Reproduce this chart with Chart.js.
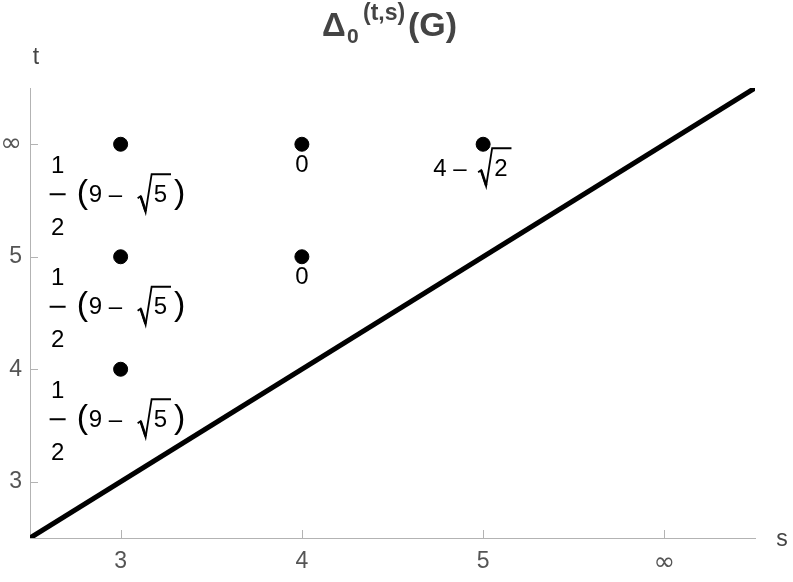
<!DOCTYPE html>
<html>
<head>
<meta charset="utf-8">
<script src="https://cdn.jsdelivr.net/npm/chart.js@4.4.0/dist/chart.umd.min.js"></script>
<style>
  body { margin: 0; background: #fff; }
  #wrap { width: 793px; height: 582px; }
</style>
</head>
<body>
<div id="wrap"><canvas id="plot" width="793" height="582"></canvas></div>
<script>
// s and t of each marked point (6 stands for infinity)
const sValues = [3, 3, 3, 4, 4, 5];
const tValues = [6, 5, 4, 6, 5, 6];
// value printed under each point
const valueKinds = ["half9minusRoot5", "half9minusRoot5", "half9minusRoot5", "zero", "zero", "fourMinusRoot2"];

const tickValues = [3, 4, 5, 6];
const tickLabels = ["3", "4", "5", "\u221E"];
const axisMin = 2.5;
const axisMax = 6.5;
// the diagonal s = t
const diagonal = [axisMin, axisMax];

const sans = "'Liberation Sans', Arial, sans-serif";
const labelFont = "24px " + sans;
const gray = "#555555";

Chart.defaults.font.family = sans;
Chart.defaults.font.size = 23;

// radical sign drawn as strokes, then the digit and its overline
function drawRoot(ctx, x0, cy, digit) {
  ctx.font = labelFont;
  ctx.textAlign = "left";
  ctx.textBaseline = "middle";
  const dw = ctx.measureText(digit).width;
  const dx = x0 + 16;
  ctx.fillText(digit, dx, cy);
  const end = dx + dw + 4;
  ctx.lineWidth = 1.8;
  ctx.lineJoin = "miter";
  ctx.beginPath();
  ctx.moveTo(x0, cy + 3);
  ctx.lineTo(x0 + 3, cy + 1);
  ctx.lineTo(x0 + 8, cy + 17);
  ctx.lineTo(x0 + 14, cy - 21);
  ctx.lineTo(end, cy - 21);
  ctx.stroke();
  // thicker down stroke
  ctx.lineWidth = 2.6;
  ctx.beginPath();
  ctx.moveTo(x0 + 3, cy + 1);
  ctx.lineTo(x0 + 8, cy + 16);
  ctx.stroke();
  return end;
}

function drawHalfNineMinusRoot5(ctx, x, y) {
  ctx.fillStyle = "#000";
  ctx.strokeStyle = "#000";
  ctx.font = labelFont;
  ctx.textAlign = "center";
  ctx.textBaseline = "middle";
  ctx.fillText("1", x - 63, y + 22);
  ctx.fillText("2", x - 63, y + 84);
  ctx.beginPath();
  ctx.lineWidth = 2;
  ctx.moveTo(x - 71, y + 50);
  ctx.lineTo(x - 55, y + 50);
  ctx.stroke();
  ctx.textAlign = "left";
  ctx.font = "34px " + sans;
  ctx.fillText("(", x - 44, y + 49);
  ctx.font = labelFont;
  ctx.fillText("9 \u2013", x - 32, y + 51);
  const end = drawRoot(ctx, x + 17, y + 51, "5");
  ctx.font = "34px " + sans;
  ctx.fillText(")", end + 3, y + 49);
}

function drawZero(ctx, x, y) {
  ctx.fillStyle = "#000";
  ctx.font = labelFont;
  ctx.textAlign = "center";
  ctx.textBaseline = "middle";
  ctx.fillText("0", x, y + 21);
}

function drawFourMinusRoot2(ctx, x, y) {
  ctx.fillStyle = "#000";
  ctx.strokeStyle = "#000";
  ctx.font = labelFont;
  ctx.textAlign = "left";
  ctx.textBaseline = "middle";
  ctx.fillText("4 \u2013", x - 50, y + 25);
  drawRoot(ctx, x - 5, y + 25, "2");
}

const labelPlugin = {
  id: "pointLabels",
  afterDatasetsDraw(chart) {
    const ctx = chart.ctx;
    const xs = chart.scales.x;
    const ys = chart.scales.y;
    ctx.save();
    for (let i = 0; i < sValues.length; i++) {
      const px = xs.getPixelForValue(sValues[i]);
      const py = ys.getPixelForValue(tValues[i]);
      if (valueKinds[i] === "half9minusRoot5") drawHalfNineMinusRoot5(ctx, px, py);
      else if (valueKinds[i] === "zero") drawZero(ctx, px, py);
      else drawFourMinusRoot2(ctx, px, py);
    }
    ctx.restore();
  },
  afterDraw(chart) {
    const ctx = chart.ctx;
    const xs = chart.scales.x;
    const ys = chart.scales.y;
    const area = chart.chartArea;
    ctx.save();
    // inward tick marks
    ctx.strokeStyle = "#b3b3b3";
    ctx.lineWidth = 1;
    ctx.beginPath();
    tickValues.forEach((v) => {
      const px = Math.round(xs.getPixelForValue(v)) + 0.5;
      ctx.moveTo(px, area.bottom);
      ctx.lineTo(px, area.bottom - 8);
      const py = Math.round(ys.getPixelForValue(v)) + 0.5;
      ctx.moveTo(area.left, py);
      ctx.lineTo(area.left + 8, py);
    });
    ctx.stroke();

    // axis names
    ctx.fillStyle = "#444";
    ctx.font = "23px " + sans;
    ctx.textAlign = "center";
    ctx.textBaseline = "middle";
    ctx.fillText("t", area.left + 6, 58);
    ctx.fillText("s", area.right + 27, area.bottom + 2);

    // title: Δ_0^(t,s)(G)
    ctx.textAlign = "left";
    ctx.textBaseline = "alphabetic";
    const bold = (size) => "bold " + size + "px " + sans;
    ctx.font = bold(33);
    ctx.fillText("\u0394", 322, 36);
    ctx.font = bold(21);
    ctx.fillText("0", 347, 43);
    ctx.font = bold(23);
    ctx.fillText("(t,s)", 363, 20);
    ctx.font = bold(34);
    ctx.fillText("(G)", 408, 36);
    ctx.restore();
  }
};

const tickFont = (c) =>
  c.tick && c.tick.value === 6
    ? { size: 26, family: "'DejaVu Sans', sans-serif" }
    : { size: 23, family: sans };

new Chart(document.getElementById("plot"), {
  type: "scatter",
  data: {
    datasets: [
      {
        type: "line",
        data: diagonal.map((v) => ({ x: v, y: v })),
        borderColor: "#000",
        borderWidth: 5,
        pointRadius: 0,
        fill: false,
      },
      {
        data: sValues.map((s, i) => ({ x: s, y: tValues[i] })),
        backgroundColor: "#000",
        borderColor: "#000",
        pointRadius: 7,
        pointHoverRadius: 7,
      },
    ],
  },
  options: {
    responsive: false,
    animation: false,
    layout: { padding: { left: 0, right: 38, top: 88, bottom: 0 } },
    plugins: {
      legend: { display: false },
      tooltip: { enabled: false },
      title: { display: false },
    },
    scales: {
      x: {
        type: "linear",
        min: axisMin,
        max: axisMax,
        afterBuildTicks: (scale) => {
          scale.ticks = tickValues.map((v) => ({ value: v }));
        },
        afterFit: (scale) => {
          scale.height = 44;
        },
        grid: { display: false, drawTicks: false },
        border: { display: true, color: "#b3b3b3", width: 1 },
        ticks: {
          padding: 10,
          color: gray,
          font: tickFont,
          maxRotation: 0,
          callback: (value) => tickLabels[tickValues.indexOf(value)],
        },
      },
      y: {
        type: "linear",
        min: axisMin,
        max: axisMax,
        afterBuildTicks: (scale) => {
          scale.ticks = tickValues.map((v) => ({ value: v }));
        },
        afterFit: (scale) => {
          scale.width = 30;
        },
        grid: { display: false, drawTicks: false },
        border: { display: true, color: "#b3b3b3", width: 1 },
        ticks: {
          padding: 8,
          color: gray,
          font: tickFont,
          callback: (value) => tickLabels[tickValues.indexOf(value)],
        },
      },
    },
  },
  plugins: [labelPlugin],
});
</script>
</body>
</html>
